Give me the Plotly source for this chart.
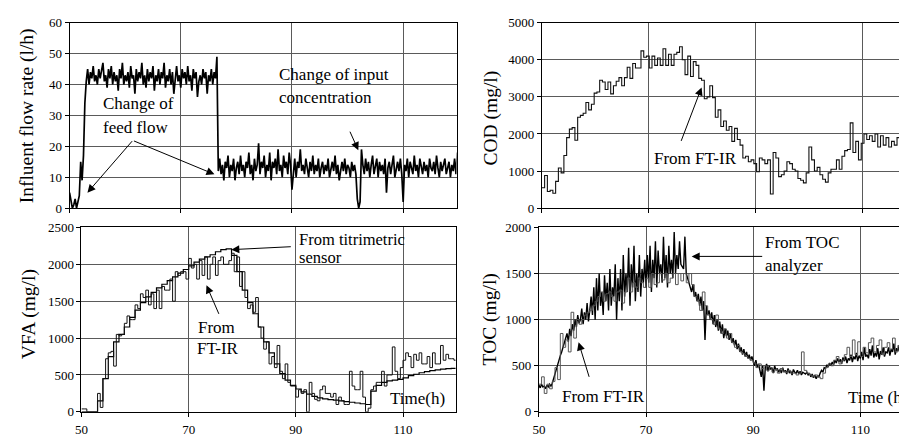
import numpy as np
import plotly.graph_objects as go

# page offset of the figure (default body margin) is compensated below
PAGE_OFF = 8
W, H = 907 - PAGE_OFF, 444 - PAGE_OFF
SERIF = "serif"
GRID = "#5a5a5a"

# ---------------- data ----------------
# Influent flow rate (l/h), sampled every 0.25 h from t = 50 h
FLOW_DT = 0.25
flow_start = [5, 2, 0, 1, 3, 0, 2, 4, 15, 9, 17]
flow_high = [34, 41, 45, 40, 44, 42, 46, 41, 43, 40,
             45, 42, 44, 47, 41, 43, 39, 45, 42, 46,
             40, 44, 41, 43, 38, 45, 42, 47, 40, 43,
             41, 44, 39, 46, 42, 43, 37, 45, 41, 44,
             42, 47, 40, 43, 39, 45, 41, 44, 42, 46,
             38, 43, 41, 45, 40, 44, 42, 47, 39, 43,
             41, 45, 40, 44, 37, 42, 46, 41, 43, 39,
             45, 42, 44, 40, 46, 41, 43, 38, 45, 42,
             44, 36, 41, 43, 40, 45, 42, 44, 37, 43,
             41, 45, 40, 44, 42, 49]
flow_low = [12, 16, 11, 14, 9, 15, 13, 17, 10, 14,
            12, 16, 9, 13, 15, 11, 17, 12, 14, 10,
            15, 13, 18, 11, 14, 9, 16, 12, 14, 21,
            11, 15, 13, 17, 10, 14, 12, 18, 9, 15,
            13, 16, 11, 19, 12, 14, 10, 17, 13, 15,
            11, 18, 14, 6, 12, 16, 10, 15, 13, 19,
            12, 14, 11, 16, 13, 10, 15, 12, 17, 11,
            14, 12, 16, 10, 13, 15, 11, 14, 12, 16,
            10, 13, 15, 12, 17, 11, 14, 9, 13, 15,
            12, 16, 11, 14, 13, 10, 15, 12, 14, 11,
            3, 0, 2, 19, 14, 11, 16, 12, 15, 10,
            14, 17, 11, 13, 16, 10, 15, 12, 14, 11,
            16, 5, 13, 15, 11, 14, 17, 10, 13, 15,
            12, 16, 11, 2, 14, 12, 16, 10, 15, 13,
            11, 17, 12, 14, 10, 16, 13, 11, 15, 12,
            14, 10, 16, 13, 12, 15, 11, 17, 13, 10,
            15, 12, 14, 16, 11, 13, 15, 10, 14, 12,
            16, 11, 18, 13]
flow = flow_start + flow_high + flow_low

# COD from FT-IR (mg/l), step values every 0.515 h from t = 50 h
COD_DT = 0.515
cod = [550, 880, 450, 480, 400, 720, 1080, 950, 1420, 1900,
       2130, 2170, 1830, 2450, 2500, 2560, 2850, 2650, 2800, 3100,
       3130, 3450, 3400, 3200, 3400, 3080, 3300, 3420, 3520, 3300,
       3520, 3800, 3500, 3900, 3780, 3780, 4240, 4070, 4100, 3780,
       4100, 3850, 4050, 3850, 4300, 3850, 4150, 3850, 4150, 4200,
       4350, 4000, 3600, 4100, 3550, 3950, 3850, 3500, 3450, 2950,
       3000, 3300, 2980, 2450, 2650, 2200, 2350, 2100, 2200, 1800,
       2150, 1850, 1700, 1350, 1400, 1250, 1300, 1200, 980, 1350,
       1300, 1200, 1300, 380, 1500, 1350, 850, 900, 1000, 1250,
       1200, 1050, 1000, 800, 750, 680, 950, 1650, 1300, 1000,
       1100, 900, 780, 700, 950, 1050, 1050, 1300, 1050, 1400,
       1550, 1580, 2300, 1500, 1800, 1300, 1750, 2000, 1850, 1950,
       1800, 2000, 1650, 1950, 1700, 1900, 1650, 1800, 1700, 1900,
       2050, 2100, 1800, 1850]

# VFA (mg/l): FT-IR every 0.5 h, titrimetric sensor every 1 h, from t = 50 h
VFA_FTIR_DT = 0.5
vfa_ftir = [40, 40, 0, 0, 0, 0, 250, 60, 450, 720,
            800, 820, 620, 1050, 1030, 1050, 1200, 1300, 1250, 1250,
            1450, 1400, 1600, 1550, 1650, 1450, 1600, 1400, 1650, 1400,
            1700, 1650, 1650, 1800, 1500, 1900, 1850, 1900, 1900, 1800,
            2080, 1950, 2000, 1800, 2050, 1850, 2100, 1800, 2000, 2100,
            1850, 2050, 2100, 2000, 2000, 2050, 2150, 1900, 2100, 1700,
            1900, 1550, 1400, 1450, 1350, 1550, 1150, 1000, 850, 950,
            650, 750, 600, 900, 550, 450, 650, 400, 350, 350,
            200, 300, 250, 300, 0, 400, 250, 170, 150, 300,
            350, 250, 250, 200, 250, 100, 200, 150, 100, 100,
            550, 350, 300, 300, 550, 200, 0, 50, 300, 350,
            400, 400, 550, 350, 500, 500, 880, 550, 450, 600,
            700, 800, 750, 600, 780, 700, 800, 650, 650, 750,
            600, 800, 650, 650, 900, 700, 780, 720, 720, 700,
            700]
VFA_TITR_DT = 1.0
vfa_titr = [0, 0, 0, 150, 450, 750, 950, 1050, 1150, 1280,
            1380, 1480, 1560, 1620, 1680, 1730, 1780, 1830, 1880, 1930,
            1980, 2030, 2070, 2100, 2130, 2170, 2200, 2210, 2120, 1900,
            1650, 1480, 1330, 1150, 950, 800, 650, 520, 430, 360,
            310, 270, 240, 210, 190, 175, 165, 160, 150, 140,
            130, 120, 110, 100, 280, 360, 400, 420, 430, 440,
            460, 490, 510, 530, 545, 560, 570, 580, 585, 590,
            600]

# TOC (mg/l): analyzer every 0.25 h, FT-IR every 0.5 h, from t = 50 h
TOC_AN_DT = 0.25
toc_an = [290, 260, 300, 270, 280, 250, 290, 270, 300, 280, 310, 360, 420, 480, 520, 560, 610, 650, 700, 730,
          780, 850, 760, 900, 820, 950, 880, 1000, 920, 1050, 960, 1000, 1120, 950, 1080, 1000, 1180, 980, 1100, 1250,
          1050, 1350, 1000, 1450, 1100, 1500, 1150, 1300, 1050, 1480, 1200, 1400, 1100, 1550, 1150, 1350, 1250, 1600, 1000, 1450,
          1200, 1550, 1100, 1700, 1250, 1500, 1300, 1780, 1150, 1600, 1350, 1800, 1200, 1500, 1300, 1700, 1250, 1550, 1400, 1650,
          1350, 1700, 1400, 1800, 1300, 1650, 1450, 1850, 1350, 1750, 1500, 1600, 1400, 1900, 1450, 1700, 1350, 1800, 1500, 1650,
          1450, 1950, 1500, 1700, 1550, 1850, 1600, 1580, 1550, 1900, 1500, 1450, 1400, 1350, 1300, 1380, 1250, 1300, 1200, 1280,
          1150, 1250, 1100, 1200, 780, 1150, 1050, 1100, 1000, 1080, 950, 1050, 920, 1000, 880, 980, 850, 950, 800, 900,
          820, 880, 780, 850, 750, 800, 720, 780, 680, 740, 650, 700, 620, 680, 600, 650, 580, 620, 560, 600,
          540, 500, 560, 480, 520, 450, 380, 500, 230, 480, 520, 440, 500, 460, 480, 420, 500, 450, 470, 430,
          460, 420, 480, 430, 450, 410, 470, 420, 440, 400, 460, 430, 420, 450, 410, 440, 400, 430, 420, 410,
          430, 400, 420, 380, 410, 370, 400, 360, 390, 380, 420, 450, 430, 480, 470, 510, 490, 530, 500, 540,
          510, 560, 530, 580, 540, 570, 520, 590, 550, 600, 530, 580, 560, 620, 540, 600, 570, 640, 550, 610,
          580, 650, 560, 700, 600, 620, 580, 680, 610, 720, 590, 640, 600, 690, 570, 660, 620, 700, 600, 650,
          640, 700, 610, 680, 650, 740, 620, 690, 660, 720, 630, 680, 650, 760, 620, 700, 660, 720, 640, 690,
          660]
TOC_FTIR_DT = 0.5
toc_ftir = [300, 380, 200, 300, 250, 330, 480, 350, 850, 700,
            780, 650, 1080, 800, 1000, 950, 1000, 1050, 1080, 1100,
            1150, 1200, 1250, 1300, 1200, 1280, 1300, 1250, 1200, 1300,
            1320, 1180, 1300, 1450, 1300, 1400, 1350, 1450, 1400, 1350,
            1450, 1350, 1500, 1380, 1400, 1500, 1430, 1500, 1400, 1450,
            1500, 1380, 1500, 1420, 1500, 1400, 1500, 1380, 1250, 1200,
            1100, 1300, 1150, 1050, 1000, 950, 1050, 900, 850, 900,
            800, 850, 750, 700, 720, 650, 630, 600, 580, 560,
            530, 480, 520, 470, 500, 450, 480, 430, 460, 420,
            470, 440, 430, 450, 420, 420, 400, 420, 650, 450,
            420, 400, 380, 400, 380, 360, 420, 480, 520, 500,
            560, 600, 520, 560, 620, 700, 600, 780, 620, 760,
            600, 700, 640, 750, 800, 650, 720, 780, 620, 700,
            750, 680, 800, 650, 720, 780, 640, 870, 700, 660,
            680]

T0 = 50
time_ticks = [50, 70, 90, 110]
time_tick_labels = ["50", "70", "90", "110"]

def times(n, dt):
    return T0 + dt * np.arange(n)

# ---------------- figure ----------------
fig = go.Figure()
fig.add_trace(go.Scatter(x=times(len(flow), FLOW_DT), y=flow, mode="lines",
                         line=dict(color="black", width=1.7), xaxis="x", yaxis="y"))
fig.add_trace(go.Scatter(x=times(len(cod), COD_DT), y=cod, mode="lines",
                         line=dict(color="#111", width=1.1, shape="hv"), xaxis="x2", yaxis="y2"))
fig.add_trace(go.Scatter(x=times(len(vfa_titr), VFA_TITR_DT), y=vfa_titr, mode="lines",
                         line=dict(color="black", width=1.2, shape="hv"), xaxis="x3", yaxis="y3"))
fig.add_trace(go.Scatter(x=times(len(vfa_ftir), VFA_FTIR_DT), y=vfa_ftir, mode="lines",
                         line=dict(color="#111", width=1, shape="hv"), xaxis="x3", yaxis="y3"))
fig.add_trace(go.Scatter(x=times(len(toc_an), TOC_AN_DT), y=toc_an, mode="lines",
                         line=dict(color="black", width=1.4), xaxis="x4", yaxis="y4"))
fig.add_trace(go.Scatter(x=times(len(toc_ftir), TOC_FTIR_DT), y=toc_ftir, mode="lines",
                         line=dict(color="#555", width=1, shape="hv"), xaxis="x4", yaxis="y4"))

tickfont = dict(family=SERIF, size=13, color="black")

def xax(dom, rng, anchor, labels):
    return dict(domain=dom, range=rng, anchor=anchor, tickvals=time_ticks,
                ticktext=time_tick_labels, showticklabels=labels, ticks="outside",
                ticklen=4, tickcolor="black", showgrid=True, gridcolor=GRID, gridwidth=1,
                showline=True, linecolor="black", linewidth=1, mirror=True,
                zeroline=False, tickfont=tickfont, ticklabelstandoff=2)

def yax(dom, rng, dtick, anchor, mirror):
    return dict(domain=dom, range=rng, anchor=anchor, dtick=dtick, tick0=0,
                ticks="outside", ticklen=4, tickcolor="black", showgrid=True,
                gridcolor=GRID, gridwidth=1, showline=True, linecolor="black",
                linewidth=1, mirror=mirror, zeroline=False, tickfont=tickfont)

def fx(px):
    return (px - PAGE_OFF) / W

def fy(py):
    return 1 - (py - PAGE_OFF) / H

top = [fy(208), fy(16)]
bot = [fy(419), fy(228)]

fig.update_layout(
    width=W, height=H, autosize=False,
    margin=dict(l=0, r=0, t=0, b=0),
    paper_bgcolor="white", plot_bgcolor="white", showlegend=False,
    font=dict(family=SERIF, color="black"),
    xaxis=xax([fx(63), fx(453)], [50, 119.6], "y", False),
    yaxis=yax(top, [0, 60], 10, "x", True),
    xaxis2=xax([fx(539), 1.0], [50, 118.3], "y2", False),
    yaxis2=yax(top, [0, 5000], 1000, "x2", False),
    xaxis3=xax([fx(75), fx(452)], [50, 119.8], "y3", True),
    yaxis3=yax(bot, [0, 2500], 500, "x3", True),
    xaxis4=xax([fx(536), 1.0], [50, 118.7], "y4", True),
    yaxis4=yax(bot, [0, 2000], 500, "x4", False),
)

ann = []

def text(s, px, py, xanchor="left", size=17, angle=0):
    ann.append(dict(text=s, x=fx(px), y=fy(py), xref="paper", yref="paper",
                    xanchor=xanchor, yanchor="middle", showarrow=False,
                    textangle=angle, font=dict(family=SERIF, size=size, color="black")))

def arrow(tx, ty, hx, hy):
    ann.append(dict(text="", x=fx(hx), y=fy(hy), xref="paper", yref="paper",
                    ax=tx - hx, ay=ty - hy, axref="pixel", ayref="pixel",
                    showarrow=True, arrowhead=2, arrowsize=1.6, arrowwidth=1,
                    arrowcolor="black"))

# axis titles
text("Influent flow rate (l/h)", 21, 112, "center", 19.5, -90)
text("COD (mg/l)", 488, 115, "center", 19.5, -90)
text("VFA (mg/l)", 22, 318, "center", 19.5, -90)
text("TOC (mg/l)", 487, 323, "center", 19.5, -90)

# top-left annotations
text("Change of", 95, 100)
text("feed flow", 95, 125)
arrow(127, 139, 81, 192)
arrow(127, 139, 209, 173)
text("Change of input", 272, 70)
text("concentration", 272, 93)
arrow(345, 128, 354, 148)

# top-right
text("From FT-IR", 650, 157)
arrow(679, 138, 700, 83)

# bottom-left
text("From titrimetric", 292, 240, size=16.5)
text("sensor", 292, 259, size=16.5)
arrow(287, 248, 226, 251)
text("From", 211, 332, "center")
text("FT-IR", 213, 353, "center")
arrow(214, 318, 201, 288)
text("Time(h)", 384, 405)

# bottom-right
text("From TOC", 762, 244)
text("analyzer", 762, 267)
arrow(762, 258, 690, 258)
text("From FT-IR", 557, 403)
arrow(587, 383, 576, 347)
text("Time (h)", 846, 404)

fig.update_layout(annotations=ann)
fig.write_html("out.html")
